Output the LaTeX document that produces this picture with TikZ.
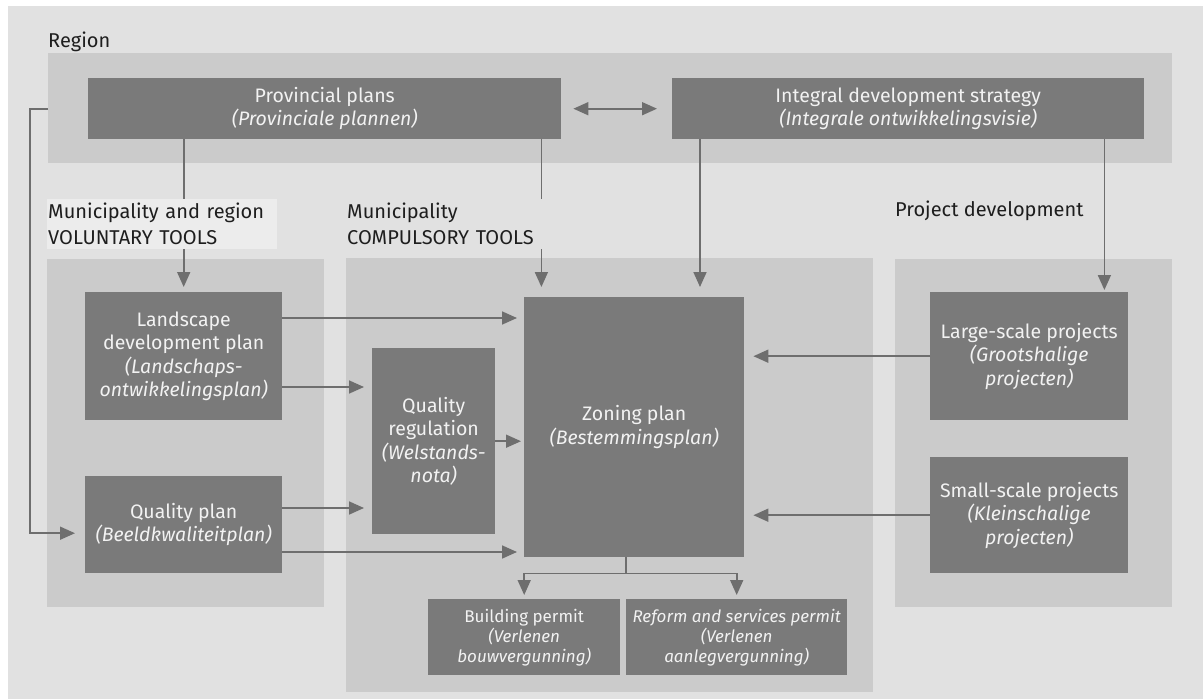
\documentclass[tikz,border=0pt]{standalone}
\usepackage{fontspec}
\setmainfont{Fira Sans}
\usetikzlibrary{arrows.meta, positioning}
\definecolor{bgcol}{HTML}{E1E1E1}
\definecolor{panelcol}{HTML}{CBCBCB}
\definecolor{boxcol}{HTML}{7A7A7A}
\definecolor{linecol}{HTML}{6E6E6E}
\definecolor{labelbg}{HTML}{ECECEC}
\definecolor{boxtext}{HTML}{F2F2F2}
\definecolor{labeltext}{HTML}{1E1E1E}
\tikzstyle{panel} = [rectangle, fill=panelcol, anchor=north west, inner sep=0pt]
\tikzstyle{block} = [rectangle, fill=boxcol, anchor=north west, text=boxtext,
  align=center, inner sep=0pt, font=\fontsize{19.5}{23.5}\selectfont]
\tikzstyle{permit} = [block, font=\fontsize{17}{20}\selectfont]
\tikzstyle{heading} = [rectangle, anchor=north west, text=labeltext, align=left,
  inner xsep=1pt, inner ysep=0pt, font=\fontsize{20}{26}\selectfont]
\tikzstyle{arrow} = [draw=linecol, line width=1.7pt, -{Triangle[length=15pt, width=13pt]}]

\begin{document}
\begin{tikzpicture}[x=1pt, y=-1pt]
    \useasboundingbox (0,0) rectangle (1203,699);
    \fill[bgcol] (8,6) rectangle (1203,699);
    \node[panel, minimum width=1124pt, minimum height=110pt] (region) at (48,53) {};
    \node[panel, minimum width=277pt, minimum height=348pt] (leftpanel) at (47,259) {};
    \node[panel, minimum width=527pt, minimum height=434pt] (midpanel) at (346,258) {};
    \node[panel, minimum width=277pt, minimum height=348pt] (rightpanel) at (895,259) {};
    \node[block, minimum width=473pt, minimum height=61pt] (prov) at (88,78) {Provincial plans\\\textit{(Provinciale plannen)}};
    \node[block, minimum width=472pt, minimum height=61pt] (integ) at (672,78) {Integral development strategy\\\textit{(Integrale ontwikkelingsvisie)}};
    \node[block, minimum width=197pt, minimum height=128pt] (land) at (85,292) {Landscape\\development plan\\\textit{(Landschaps-}\\\textit{ontwikkelingsplan)}};
    \node[block, minimum width=197pt, minimum height=97pt] (qplan) at (85,476) {Quality plan\\\textit{(Beeldkwaliteitplan)}};
    \node[block, minimum width=123pt, minimum height=186pt] (qreg) at (372,348) {Quality\\regulation\\\textit{(Welstands-}\\\textit{nota)}};
    \node[block, minimum width=220pt, minimum height=260pt] (zone) at (524,297) {Zoning plan\\\textit{(Bestemmingsplan)}};
    \node[permit, minimum width=192pt, minimum height=76pt] (bperm) at (428,599) {Building permit\\\textit{(Verlenen}\\\textit{bouwvergunning)}};
    \node[permit, minimum width=221pt, minimum height=76pt] (reform) at (626,599) {\textit{Reform and services permit}\\\textit{(Verlenen}\\\textit{aanlegvergunning)}};
    \node[block, minimum width=198pt, minimum height=128pt] (large) at (930,292) {Large-scale projects\\\textit{(Grootshalige}\\\textit{projecten)}};
    \node[block, minimum width=198pt, minimum height=116pt] (small) at (930,457) {Small-scale projects\\\textit{(Kleinschalige}\\\textit{projecten)}};
    \draw[arrow, {Triangle[length=15pt, width=13pt]}-{Triangle[length=15pt, width=13pt]}, shorten <=12pt, shorten >=15pt] (prov) -- (integ);
    \draw[arrow, shorten >=5pt] (prov.south -| land.north) -- (land.north);
    \draw[arrow, shorten >=10pt] ([xshift=-20pt]prov.south east) -- ([xshift=-20pt]prov.south east |- zone.north);
    \draw[arrow, shorten >=10pt] ([xshift=28pt]integ.south west) -- ([xshift=28pt]integ.south west |- zone.north);
    \draw[arrow, shorten >=2pt] ([xshift=-40pt]integ.south east) -- ([xshift=-40pt]integ.south east |- large.north);
    \draw[arrow, shorten >=10pt] (region.west |- prov.west) -- ++(-18,0) |- ([yshift=-8.5pt]qplan.west);
    \draw[arrow, shorten >=7pt] ([yshift=-26pt]land.north east) -- ([yshift=-26pt]land.north east -| zone.west);
    \draw[arrow, shorten >=8pt] ([yshift=-95pt]land.north east) -- ([yshift=-95pt]land.north east -| qreg.west);
    \draw[arrow, shorten >=8pt] ([yshift=-32pt]qplan.north east) -- ([yshift=-32pt]qplan.north east -| qreg.west);
    \draw[arrow, shorten >=7pt] ([yshift=-76pt]qplan.north east) -- ([yshift=-76pt]qplan.north east -| zone.west);
    \draw[arrow, shorten >=3pt] (qreg.east) -- (qreg.east -| zone.west);
    \draw[arrow, shorten >=9pt] (large.west) -- (large.west -| zone.east);
    \draw[arrow, shorten >=9pt] (small.west) -- (small.west -| zone.east);
    \draw[arrow, shorten >=4pt] ([xshift=-8pt]zone.south) -- ++(0,16) -| (bperm.north);
    \draw[arrow, shorten >=4pt] ([xshift=-8pt]zone.south) -- ++(0,16) -| (reform.north);
    \node[heading, anchor=base west] (regionlabel) at (47,47) {Region};
    \node[heading, fill=labelbg, text width=228pt, minimum height=50pt] (mrlabel) at (47,199) {Municipality and region\\VOLUNTARY TOOLS};
    \node[heading, fill=bgcol, text width=198pt, minimum height=50pt] (mlabel) at (346,199) {Municipality\\COMPULSORY TOOLS};
    \node[heading, anchor=base west] (pdlabel) at (894,216) {Project development};
\end{tikzpicture}
\end{document}
